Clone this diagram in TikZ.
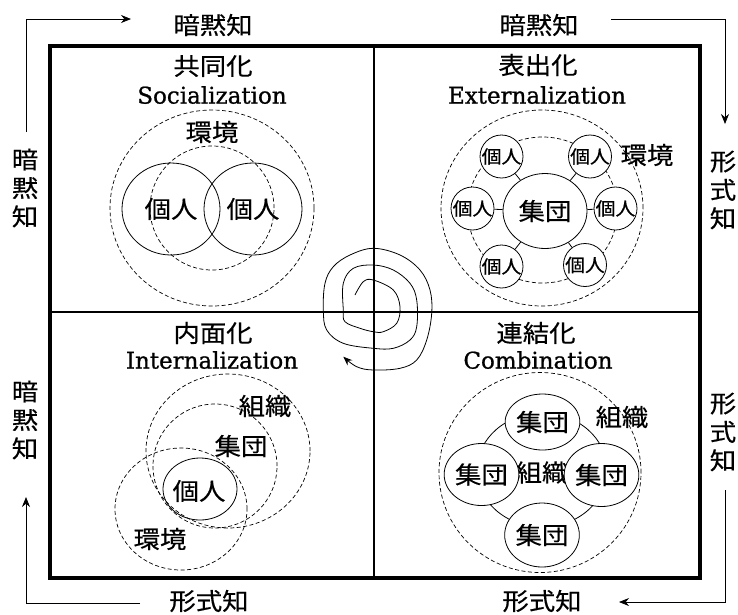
\documentclass[tikz,border=0pt]{standalone}
\usepackage{fontspec}
\setmainfont{DejaVu Serif}
\newfontfamily\enf[FakeBold=0.9]{DejaVu Serif}
\newfontfamily\cjk[FakeStretch=1.1,FakeBold=0.4]{Noto Sans CJK JP}
\usetikzlibrary{arrows.meta,shapes.geometric}
\begin{document}
\begin{tikzpicture}[x=1pt,y=-1pt,
  cj/.style={font=\cjk\fontsize{24}{28.5}\selectfont, inner sep=0pt, align=center},
  cjs/.style={font=\cjk\fontsize{18}{20}\selectfont, inner sep=0pt},
  en/.style={font=\enf\fontsize{23}{26}\selectfont, inner sep=0pt},
  dsh/.style={dash pattern=on 4pt off 2.5pt, line width=0.7pt},
  thinl/.style={line width=0.8pt},
  arr/.style={line width=0.8pt, -{Stealth[length=10pt,width=8pt]}},
  ellnode/.style={ellipse, draw, line width=0.8pt, inner sep=0pt},
  grpnode/.style={ellipse, draw, line width=0.8pt, fill=white, inner ysep=0pt, inner xsep=-5pt},
  pcircle/.style={circle, draw, line width=0.8pt, inner sep=0pt, minimum size=43pt},
]
\useasboundingbox (0,0) rectangle (738,614);

% frame and quadrant lines
\draw[line width=4.5pt] (50,46) rectangle (700,578);
\draw[line width=1.3pt] (374,46) -- (374,578);
\draw[line width=1.3pt] (50,312) -- (700,312);

% outer labels
\node[cj] (tl) at (213,25) {暗黙知};
\node[cj] (tr) at (539,25) {暗黙知};
\node[cj] (bl) at (209,601) {形式知};
\node[cj] (br) at (542,601) {形式知};
\node[cj] (lv1) at (25,188) {暗\\黙\\知};
\node[cj] (lv2) at (25,420) {暗\\黙\\知};
\node[cj] (rv1) at (723,190) {形\\式\\知};
\node[cj] (rv2) at (723,432) {形\\式\\知};

\coordinate (a1s) at (26,132);
\coordinate (a1c) at (26,19);
\coordinate (a1e) at (131,19);
\coordinate (a2s) at (611,19);
\coordinate (a2c) at (725,19);
\coordinate (a2e) at (725,124);
\coordinate (a3s) at (725,490);
\coordinate (a3c) at (725,602);
\coordinate (a3e) at (619,602);
\coordinate (a4s) at (140,603);
\coordinate (a4c) at (26,603);
\coordinate (a4e) at (26,497);
\draw[arr] (a1s) -- (a1c) -- (a1e);
\draw[arr] (a2s) -- (a2c) -- (a2e);
\draw[arr] (a3s) -- (a3c) -- (a3e);
\draw[arr] (a4s) -- (a4c) -- (a4e);

% ---------- Socialization ----------
\node[cj] (s1) at (213,66) {共同化};
\node[en] (s2) at (212,95) {Socialization};
\draw[dsh] (212,208) ellipse [x radius=102pt, y radius=98pt];
\draw[dsh] (212,208) circle [radius=62pt];
\node[cj] (senv) at (212,132) {環境};
\node[ellnode, minimum width=98pt, minimum height=92pt, cj] (sp1) at (171,209) {個人};
\node[ellnode, minimum width=98pt, minimum height=92pt, cj] (sp2) at (253,209) {個人};

% ---------- Externalization ----------
\node[cj] (e1) at (538,65) {表出化};
\node[en] (e2) at (537,95) {Externalization};
\draw[dsh] (542,208) ellipse [x radius=101pt, y radius=98pt];
\draw[dsh] (542.5,210) ellipse [x radius=75pt, y radius=73pt];
\node[ellnode, cj, minimum width=84pt, minimum height=75pt] (egrp) at (545,211) {集団};
\node[pcircle, cjs, fill=white] (ep1) at (501.5,156.5) {個人};
\node[pcircle, cjs, fill=white] (ep2) at (590,156.5) {個人};
\node[pcircle, cjs, fill=white] (ep3) at (472.5,208.5) {個人};
\node[pcircle, cjs, fill=white] (ep4) at (615.5,208.5) {個人};
\node[pcircle, cjs, fill=white] (ep5) at (501.5,266.5) {個人};
\node[pcircle, cjs, fill=white] (ep6) at (585,265) {個人};
\foreach \p in {ep1,ep2,ep3,ep4,ep5,ep6} \draw[thinl] (egrp) -- (\p);
\node[cj] (eenv) at (647,155) {環境};

% ---------- Internalization ----------
\node[cj] (i1) at (213,333) {内面化};
\node[en] (i2) at (212,360) {Internalization};
\draw[dsh] (228,451) ellipse [x radius=82pt, y radius=77pt];
\draw[dsh] (215,466) circle [radius=62pt];
\draw[dsh] (181,509) ellipse [x radius=66pt, y radius=61pt];
\node[ellnode, cj, inner xsep=-4pt, minimum width=74pt, minimum height=62pt] (ip) at (200,489) {};
\node[cj] (iptext) at (199,491) {個人};
\node[cj] (iorg) at (265,406) {組織};
\node[cj] (igrp) at (241,446) {集団};
\node[cj] (ienv) at (160,539) {環境};

% ---------- Combination ----------
\node[cj] (c1) at (536,333) {連結化};
\node[en] (c2) at (538,360) {Combination};
\draw[dsh] (540,472.5) ellipse [x radius=101pt, y radius=100pt];
\draw[thinl] (542,470) ellipse [x radius=65pt, y radius=57pt];
\node[cj] (corg) at (542,472.5) {組織};
\node[grpnode, cj, minimum width=65pt, minimum height=56pt] (cg1) at (542.5,422) {集団};
\node[grpnode, cj, minimum width=65pt, minimum height=62pt] (cg2) at (481.5,474.5) {集団};
\node[grpnode, cj, minimum width=64pt, minimum height=63pt] (cg3) at (601.5,475) {集団};
\node[grpnode, cj, minimum width=66pt, minimum height=64pt] (cg4) at (542,535) {集団};
\node[cj] (corg2) at (622,417) {組織};

% ---------- spiral ----------
\coordinate (spend) at (343.3,356.7);
\draw[thinl, -{Stealth[length=9pt,width=7pt]}] plot[smooth, tension=0.6] coordinates {
 (355,295) (363.3,281.7) (373.3,280) (393.3,290) (400,306.7) (396.7,323.3)
 (383.3,331.7) (373.3,331.7) (360,328.3) (345,321.7) (343.3,310) (343.3,283.3)
 (353.3,268.3) (373.3,265) (393.3,270) (410,283.3) (416.7,300) (416.7,326.7)
 (410,340) (393.3,348.3) (373.3,348.3) (343.3,343.3) (326.7,330) (323.3,310)
 (325,283.3) (333.3,266.7) (350,255) (373.3,248.3) (400,255) (420,270)
 (430,290) (431.7,313.3) (426.7,340) (416.7,360) (400,368.3) (373.3,370)
 (356.7,366.7) (spend)};
\end{tikzpicture}
\end{document}
